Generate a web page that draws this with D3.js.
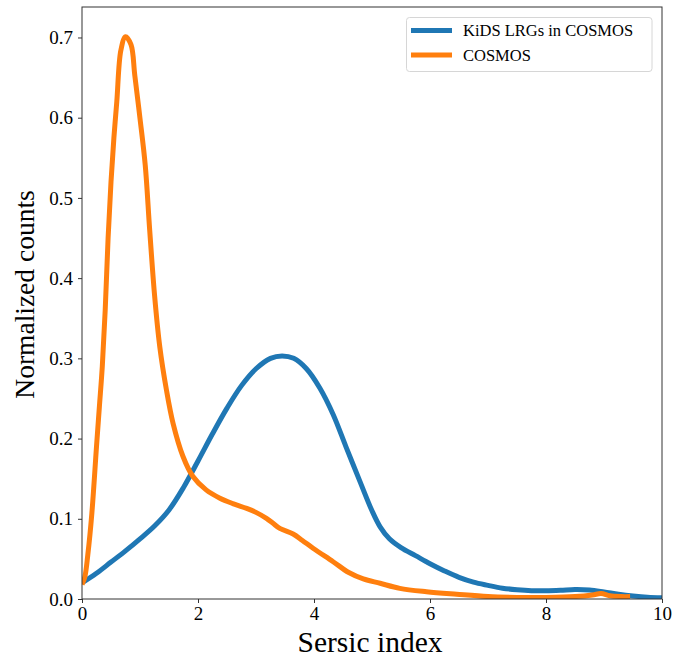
<!DOCTYPE html>
<html>
<head>
<meta charset="utf-8">
<script src="https://cdn.jsdelivr.net/npm/d3@7"></script>
<style>
  html, body { margin: 0; padding: 0; background: #fff; }
  svg { display: block; }
  text { font-family: "Liberation Serif", "Times New Roman", serif; fill: #000; }
</style>
</head>
<body>
<svg id="chart" width="699" height="657"></svg>
<script>
// ---- data ----
const seriesNames = ["KiDS LRGs in COSMOS", "COSMOS"];
const seriesColors = ["#1f77b4", "#ff7f0e"];

const kidsX = [0, 0.25, 0.5, 0.75, 1.0, 1.25, 1.5, 1.75, 2.0, 2.25, 2.5, 2.75, 3.0, 3.25, 3.45, 3.65, 3.87, 4.1, 4.33, 4.55, 4.79, 5.0, 5.14, 5.3, 5.5, 5.75, 6.0, 6.25, 6.5, 6.75, 7.0, 7.25, 7.5, 7.75, 8.0, 8.25, 8.5, 8.75, 9.0, 9.25, 9.5, 9.75, 10];
const kidsY = [0.02, 0.032, 0.046, 0.060, 0.075, 0.091, 0.111, 0.139, 0.172, 0.206, 0.238, 0.266, 0.287, 0.300, 0.303, 0.300, 0.287, 0.263, 0.230, 0.190, 0.147, 0.110, 0.090, 0.075, 0.064, 0.054, 0.044, 0.035, 0.027, 0.021, 0.017, 0.0135, 0.0115, 0.0103, 0.0102, 0.0108, 0.0118, 0.0112, 0.0088, 0.006, 0.0038, 0.0022, 0.0015];

const cosmosX = [0, 0.05, 0.1, 0.17, 0.25, 0.3, 0.35, 0.4, 0.45, 0.5, 0.55, 0.6, 0.67, 0.75, 0.845, 0.91, 1.0, 1.09, 1.167, 1.253, 1.34, 1.455, 1.57, 1.74, 1.91, 2.14, 2.37, 2.6, 2.84, 3.0, 3.18, 3.3, 3.41, 3.64, 3.8, 3.99, 4.33, 4.6, 4.85, 5.14, 5.48, 5.94, 6.46, 7.0, 7.5, 8.0, 8.5, 8.8, 8.95, 9.1, 9.3, 9.45];
const cosmosY = [0.018, 0.028, 0.055, 0.107, 0.19, 0.24, 0.29, 0.36, 0.45, 0.52, 0.575, 0.62, 0.684, 0.701, 0.691, 0.653, 0.599, 0.541, 0.46, 0.377, 0.315, 0.261, 0.219, 0.178, 0.153, 0.136, 0.126, 0.119, 0.113, 0.108, 0.1006, 0.094, 0.088, 0.081, 0.073, 0.063, 0.0465, 0.033, 0.025, 0.0196, 0.0133, 0.0091, 0.0059, 0.003, 0.002, 0.002, 0.003, 0.005, 0.0068, 0.004, 0.003, 0.003];

const xTicks = [0, 2, 4, 6, 8, 10];
const yTicks = [0.0, 0.1, 0.2, 0.3, 0.4, 0.5, 0.6, 0.7];
const xLabel = "Sersic index";
const yLabel = "Normalized counts";

// ---- layout ----
const svg = d3.select("#chart");
const L = 82, R = 662, T = 7, B = 599;

const x = d3.scaleLinear().domain([0, 10]).range([L, R]);
const y = d3.scaleLinear().domain([0, 0.738]).range([B, T]);

svg.append("defs").append("clipPath").attr("id", "clip")
  .append("rect").attr("x", L).attr("y", T).attr("width", R - L).attr("height", B - T);

const line = d3.line()
  .x(d => x(d[0])).y(d => y(d[1]))
  .curve(d3.curveCatmullRom.alpha(0.5));

const series = [
  kidsX.map((v, i) => [v, kidsY[i]]),
  cosmosX.map((v, i) => [v, cosmosY[i]])
];

const plot = svg.append("g").attr("clip-path", "url(#clip)");
series.forEach((s, i) => {
  plot.append("path")
    .datum(s)
    .attr("d", line)
    .attr("fill", "none")
    .attr("stroke", seriesColors[i])
    .attr("stroke-width", 5)
    .attr("stroke-linejoin", "round")
    .attr("stroke-linecap", "butt");
});

// axes
const xAxis = d3.axisBottom(x).tickValues(xTicks).tickFormat(d3.format("d")).tickSizeOuter(0).tickSize(4).tickPadding(4);
const yAxis = d3.axisLeft(y).tickValues(yTicks).tickFormat(d3.format(".1f")).tickSizeOuter(0).tickSize(4).tickPadding(5);

const gx = svg.append("g").attr("transform", `translate(0,${B})`).call(xAxis);
const gy = svg.append("g").attr("transform", `translate(${L},0)`).call(yAxis);
[gx, gy].forEach(g => {
  g.attr("font-family", null);
  g.select(".domain").remove();
  g.selectAll(".tick line").attr("stroke", "#333").attr("stroke-width", 1);
  g.selectAll(".tick text").style("font-size", "19px").style("font-family", "'Liberation Serif', serif").attr("fill", "#000");
});

// frame
svg.append("rect")
  .attr("x", L).attr("y", T).attr("width", R - L).attr("height", B - T)
  .attr("fill", "none").attr("stroke", "#333").attr("stroke-width", 1);

// axis labels
svg.append("text")
  .attr("x", (L + R) / 2 - 2).attr("y", 652)
  .attr("text-anchor", "middle")
  .style("font-size", "29.5px")
  .text(xLabel);

svg.append("text")
  .attr("transform", `translate(33.5,294.5) rotate(-90)`)
  .attr("text-anchor", "middle")
  .style("font-size", "27.5px")
  .text(yLabel);

// legend
const lg = svg.append("g");
lg.append("rect")
  .attr("x", 406.5).attr("y", 17.5).attr("width", 245.5).attr("height", 54)
  .attr("rx", 3).attr("ry", 3)
  .attr("fill", "#fff").attr("fill-opacity", 0.8)
  .attr("stroke", "#d6d6d6").attr("stroke-width", 1);

seriesNames.forEach((name, i) => {
  const cy = 30.5 + i * 24.5;
  lg.append("line")
    .attr("x1", 411).attr("x2", 452)
    .attr("y1", cy).attr("y2", cy)
    .attr("stroke", seriesColors[i]).attr("stroke-width", 5);
  lg.append("text")
    .attr("x", 463).attr("y", cy + 5.5)
    .style("font-size", "16.5px")
    .text(name);
});
</script>
</body>
</html>
